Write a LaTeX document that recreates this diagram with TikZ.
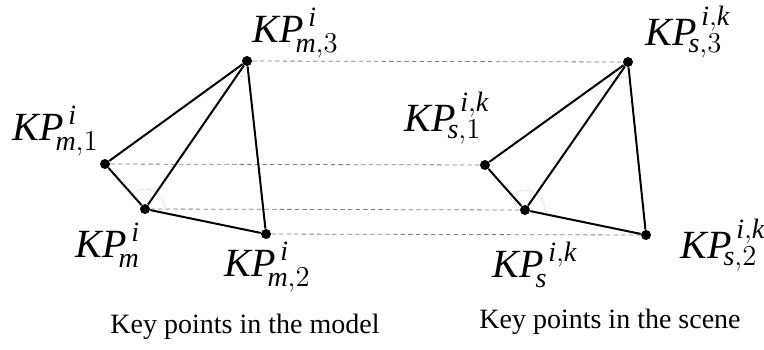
\documentclass[tikz,border=0pt]{standalone}
\usepackage{fontspec}
\setmainfont{Liberation Serif}
\usetikzlibrary{angles}

\newcommand{\kpm}[2]{$\mathit{KP}^{\,\mathit{#1}}_{\mkern-5mu#2}$}

\begin{document}
\begin{tikzpicture}[
  x=0.5pt, y=-0.5pt,
  kp/.style={circle, fill=black, inner sep=0pt, minimum size=5pt},
  edge/.style={line width=1pt, draw=black},
  match/.style={draw=gray, line width=0.4pt, dash pattern=on 2.2pt off 1.6pt},
  ang/.style={draw=gray, line width=0.3pt, densely dotted},
  kplabel/.style={inner sep=0pt, anchor=base west, font=\fontsize{20}{24}\selectfont},
  caption/.style={font=\fontsize{14}{16}\selectfont},
]
\useasboundingbox (0,0) rectangle (764,349);

% Model key points
\node[kp] (m3) at (247,61) {};
\node[kp] (m1) at (105,164) {};
\node[kp] (mA) at (145,209) {};
\node[kp] (m2) at (266,234) {};

% Scene key points
\node[kp] (s3) at (628,62) {};
\node[kp] (s1) at (485,165) {};
\node[kp] (sA) at (525,210) {};
\node[kp] (s2) at (646,235) {};

% Correspondences
\foreach \p in {3,1,A,2}{ \draw[match] (m\p) -- (s\p); }

% Triangles
\foreach \t in {m,s}{
  \draw[edge] (\t1) -- (\t3) -- (\t2) -- (\t A) -- (\t1);
  \draw[edge] (\t A) -- (\t3);
  \pic[ang, angle radius=10pt] {angle = \t2--\t A--\t1};
  \pic[ang, angle radius=8pt] {angle = \t1--\t3--\t2};
}

% Labels
\node[kplabel] (lm3) at (252,42)  {\kpm{i}{\mathit{m},3}};
\node[kplabel] (lm1) at (12,140)  {\kpm{i}{\mathit{m},1}};
\node[kplabel] (lmA) at (75,257)  {\kpm{i}{\mathit{m}}};
\node[kplabel] (lm2) at (224,276) {\kpm{i}{\mathit{m},2}};
\node[kplabel] (ls3) at (645,45)  {\kpm{i,k}{\mathit{s},3}};
\node[kplabel] (ls1) at (404,131) {\kpm{i,k}{\mathit{s},1}};
\node[kplabel] (lsA) at (492,277) {\kpm{i,k}{\mathit{s}}};
\node[kplabel] (ls2) at (680,258) {\kpm{i,k}{\mathit{s},2}};

% Captions
\node[caption] (capm) at (245,327) {Key points in the model};
\node[caption] (caps) at (610,322) {Key points in the scene};

\end{tikzpicture}
\end{document}
